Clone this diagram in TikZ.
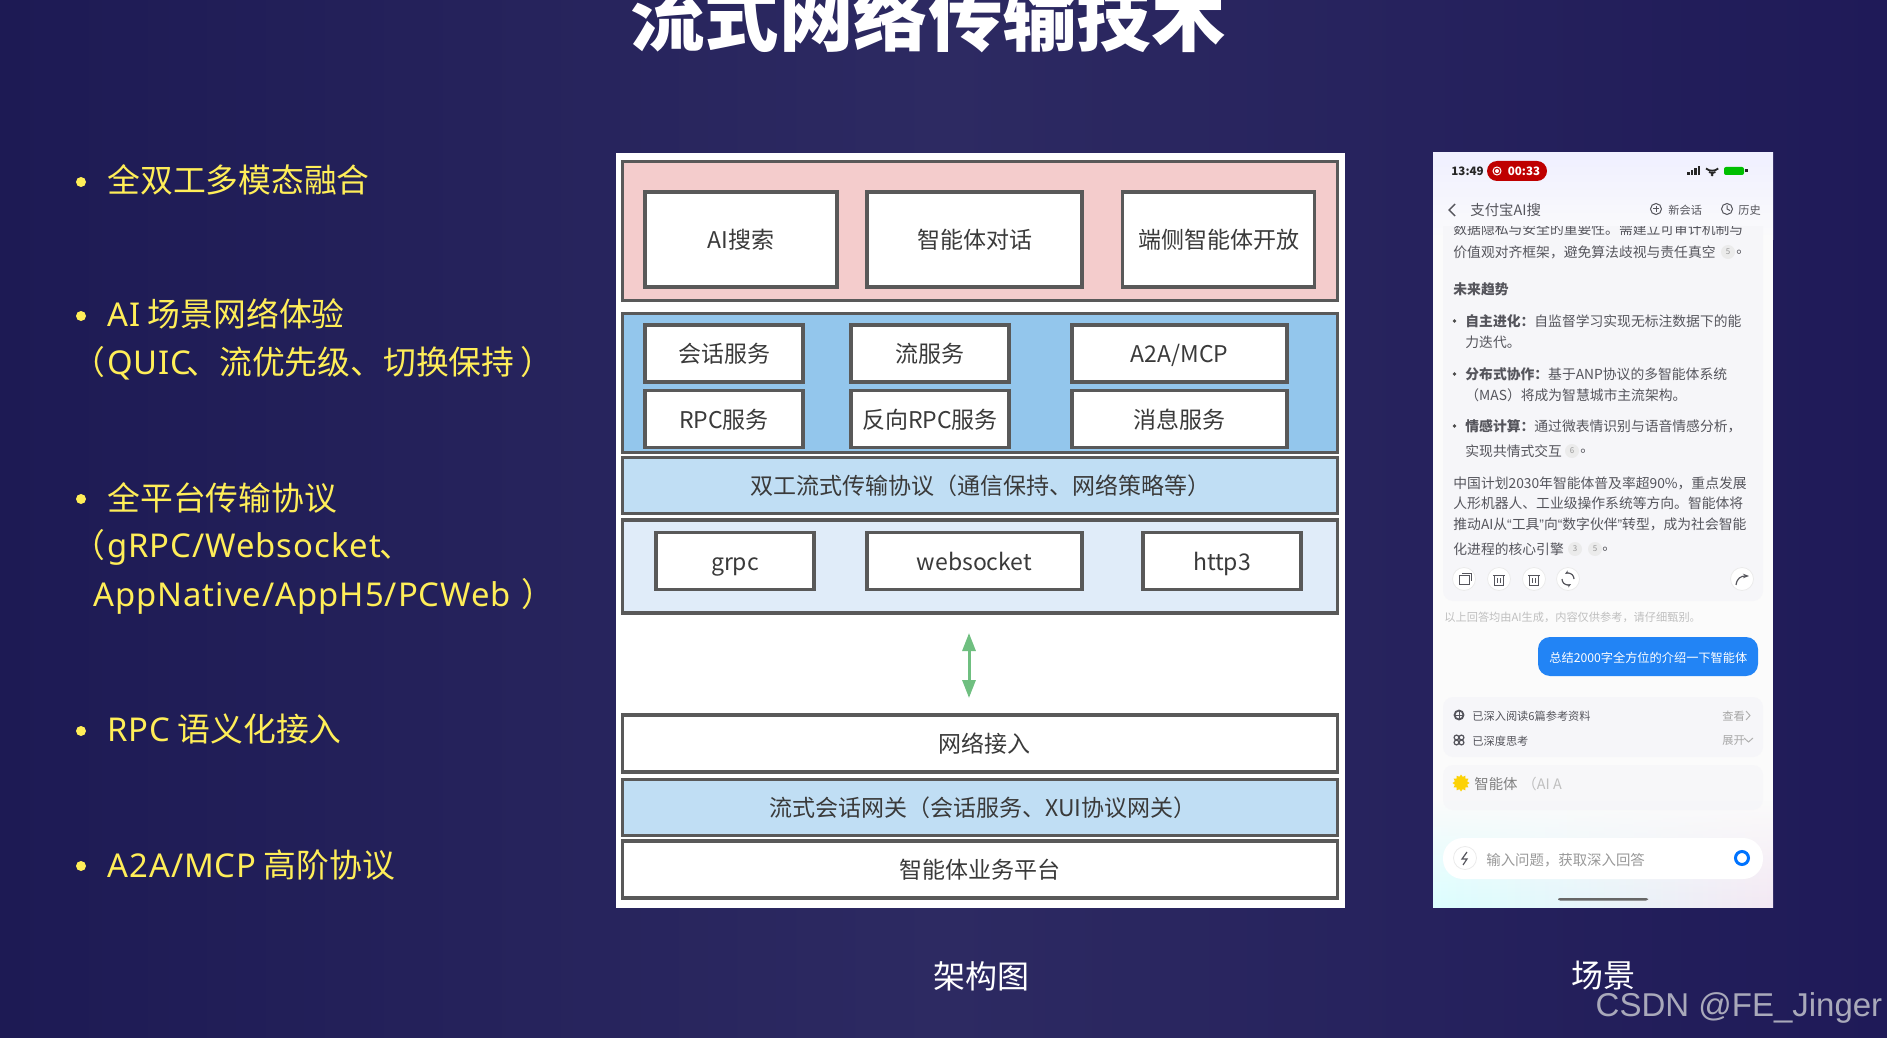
\documentclass[tikz,border=0pt]{standalone}
\usepackage{fontspec}
\setmainfont{Noto Sans CJK SC}
\newfontfamily\marksans{Liberation Sans}
\newfontfamily\itemlatin{Noto Sans}[LetterSpace=3]
\newcommand{\lat}[1]{{\itemlatin #1}}
\usetikzlibrary{arrows.meta,fadings,shapes.geometric}
\definecolor{bgdark}{HTML}{1D1A54}
\definecolor{bgmid}{HTML}{2D2A62}
\definecolor{bgedge}{HTML}{1F1A58}
\definecolor{itemyellow}{HTML}{FFEE58}
\definecolor{linegray}{HTML}{595959}
\definecolor{textgray}{HTML}{3A3A3A}
\definecolor{layerpink}{HTML}{F4CCCC}
\definecolor{layerblue}{HTML}{93C6EC}
\definecolor{bandblue}{HTML}{C0DEF4}
\definecolor{bandpale}{HTML}{E0ECF9}
\definecolor{arrowgreen}{HTML}{6FBF80}
\definecolor{phonegray}{HTML}{55555C}
\definecolor{cardgray}{HTML}{F6F6F9}
\definecolor{chatblue}{HTML}{2284F5}
\definecolor{markgray}{HTML}{A9A9BA}
\begin{document}
\begin{tikzpicture}[x=0.5pt, y=-0.5pt,
    layer/.style={draw=linegray, line width=1.8pt, inner sep=0pt, minimum width=357.5pt, text=textgray, text height=11pt, text depth=2pt, font=\fontsize{11.5}{13}\selectfont},
    whitebox/.style={layer, fill=white, minimum width=#1},
    itemtext/.style={anchor=west, inner sep=0pt, text=itemyellow, font=\fontsize{16.4}{18}\selectfont},
    dotmark/.style={circle, fill=itemyellow, inner sep=0pt, minimum size=5pt},
    caption/.style={text=white, font=\fontsize{16}{18}\selectfont},
    phonetext/.style={anchor=west, inner sep=0pt, text=phonegray, font=\fontsize{6.9}{8}\selectfont},
    phonesmall/.style={phonetext, font=\fontsize{5.6}{7}\selectfont},
    refmark/.style={circle, fill=black!8, text=black!40, inner sep=0pt, minimum size=7pt, font=\fontsize{4}{5}\selectfont},
    iconring/.style={circle, draw=black!8, fill=white, inner sep=0pt, minimum size=11.5pt},
    card/.style={fill=cardgray, rounded corners=5pt}]

  % 背景
  \useasboundingbox (0,0) rectangle (1887,1038);
  \shade[left color=bgdark, right color=bgedge, middle color=bgmid] (0,0) rectangle (1887,1038);

  % 标题（上沿被裁掉）
  \node[text=white, inner sep=0pt, font=\fontsize{37.2}{40}\selectfont\bfseries] (title) at (928,17) {流式网络传输技术};

  % 左侧要点
  \foreach \i/\ypos in {1/182, 2/316, 3/499, 4/731, 5/866}
    \node[dotmark] (dot\i) at (81,\ypos) {};
  \node[itemtext] (item1) at (107,180) {全双工多模态融合};
  \node[itemtext] (item2) at (107,314) {\lat{AI} 场景网络体验};
  \node[itemtext] (item2b) at (72,363) {（\hspace{1pt}\lat{QUIC}\hspace{-2.5pt}、流优先级、切换保持\hspace{2.9pt}）};
  \node[itemtext] (item3) at (107,498) {全平台传输协议};
  \node[itemtext] (item3b) at (72,547) {（\hspace{1pt}\lat{gRPC/Websocket}\hspace{-1pt}、};
  \node[itemtext] (item3c) at (93,596) {\lat{AppNative/AppH5/PCWeb}\hspace{5pt}）};
  \node[itemtext] (item4) at (107,729) {\lat{RPC} 语义化接入};
  \node[itemtext] (item5) at (107,865) {\lat{A2A/MCP} 高阶协议};

  % 架构图底板
  \fill[white] (616,153) rectangle (1345,908);

  % 上层：应用
  \node[layer, fill=layerpink, minimum height=69.5pt] (applayer) at (980,231) {};
  \node[whitebox=96pt, minimum height=47.5pt] (aisearch) at (741,239.5) {AI搜索};
  \node[whitebox=107.5pt, minimum height=47.5pt] (agentchat) at (974.5,239.5) {智能体对话};
  \node[whitebox=96pt, minimum height=47.5pt] (edgeagent) at (1218.5,239.5) {端侧智能体开放};

  % 中层：服务
  \node[layer, fill=layerblue, minimum height=69.5pt] (svclayer) at (980,383) {};
  \node[whitebox=79pt, minimum height=28.5pt] (session) at (724,353.5) {会话服务};
  \node[whitebox=79pt, minimum height=28.5pt] (stream) at (930,353.5) {流服务};
  \node[whitebox=107.5pt, minimum height=28.5pt] (a2a) at (1179.5,353.5) {A2A/MCP};
  \node[whitebox=79pt, minimum height=28.5pt] (rpc) at (724,419) {RPC服务};
  \node[whitebox=79pt, minimum height=28.5pt] (revrpc) at (930,419) {反向RPC服务};
  \node[whitebox=107.5pt, minimum height=28.5pt] (message) at (1179.5,419) {消息服务};

  % 传输协议
  \node[layer, fill=bandblue, minimum height=28pt] (duplex) at (980,485.5) {双工流式传输协议（通信保持、网络策略等）};
  \node[layer, fill=bandpale, minimum height=46.5pt] (protolayer) at (980,566.5) {};
  \node[whitebox=79pt, minimum height=28.5pt] (grpc) at (735,561) {grpc};
  \node[whitebox=107.5pt, minimum height=28.5pt] (websocket) at (974.5,561) {websocket};
  \node[whitebox=79pt, minimum height=28.5pt] (http3) at (1222,561) {http3};

  % 双向箭头
  \coordinate (arrowtop) at (969,633);
  \coordinate (arrowbot) at (969,698);
  \draw[arrowgreen, line width=1.5pt, {Triangle[length=9pt,width=6.5pt]}-{Triangle[length=9pt,width=6.5pt]}] (arrowtop) -- (arrowbot);

  % 下层
  \node[whitebox=357.5pt, minimum height=28.5pt] (access) at (980,743.5) {\hspace*{4pt}网络接入};
  \node[layer, fill=bandblue, minimum height=28pt] (gateway) at (980,807.5) {\hspace*{3pt}流式会话网关（会话服务、XUI协议网关）};
  \node[whitebox=357.5pt, minimum height=28.5pt] (platform) at (980,869.5) {智能体业务平台};

  % 图注
  \node[caption] (archcap) at (981,976) {架构图};
  \node[caption] (scenecap) at (1603,976) {场景};
  \node[text=markgray, inner sep=0pt, font=\fontsize{16.5}{18}\selectfont\marksans] (watermark) at (1739,1008) {CSDN @FE\_Jinger};

  % 手机截图：底色
  \fill[black!1.5!white] (1433,153) rectangle (1773,908);
  \shade[top color=blue!6!white, bottom color=black!1.5!white] (1433,153) rectangle (1773,240);
  \shade[left color=cyan!14!white, right color=violet!9!white, path fading=north] (1433,800) rectangle (1773,908);

  % 状态栏
  \node[phonetext, text=black!85, font=\fontsize{5.8}{7}\selectfont\bfseries] (clock) at (1451,171) {13:49};
  \node[fill=red!75!black, text=white, rounded corners=5pt, minimum width=30pt, minimum height=10pt, inner sep=0pt, font=\fontsize{5.8}{7}\selectfont\bfseries] (recpill) at (1517,171) {\hspace{7pt}00:33};
  \draw[white, line width=0.5pt] (1497,171) circle (4);
  \fill[white] (1497,171) circle (2);
  \foreach \i/\h in {0/3, 1/5, 2/7, 3/9}
    \fill[black!85] ({1687+\i*3.5},175.5) rectangle ++(2.6,-\h);
  \draw[black!85, line width=0.9pt] (1706,168.5) arc (130:50:9.5);
  \draw[black!85, line width=0.9pt] (1709,172) arc (130:50:5);
  \fill[black!85] (1712,175) circle (1.5);
  \fill[green!75!black, rounded corners=1pt] (1724,167) rectangle (1744,175);
  \fill[black!85] (1745,169.5) rectangle (1748,172.5);

  % 导航栏
  \draw[phonegray, line width=0.7pt] (1455,204) -- (1449,210) -- (1455,216);
  \node[phonetext, font=\fontsize{7.2}{8}\selectfont] (navtitle) at (1470,210) {支付宝AI搜};
  \draw[phonegray, line width=0.5pt] (1656,209) circle (5.5);
  \draw[phonegray, line width=0.5pt] (1653,209) -- (1659,209) (1656,206) -- (1656,212);
  \node[phonesmall] (newchat) at (1668,210) {新会话};
  \draw[phonegray, line width=0.5pt] (1727,209) circle (5.5);
  \draw[phonegray, line width=0.5pt] (1727,205.5) -- (1727,209) -- (1730,210.5);
  \node[phonesmall] (history) at (1738,210) {历史};

  % 回答卡片
  \begin{scope}
    \clip (1433,227) rectangle (1773,620);
    \fill[card] (1443,210) rectangle (1763,601);
    \node[phonetext] (line0) at (1453,229) {数据隐私与安全的重要性。需建立可审计机制与};
  \end{scope}
  \node[phonetext] (line1) at (1453,252) {价值观对齐框架，避免算法歧视与责任真空};
  \node[refmark] (ref1) at (1728,252) {5};
  \node[phonetext] (line1b) at (1736,252) {。};
  \node[phonetext, font=\fontsize{6.9}{8}\selectfont\bfseries] (trend) at (1453,289) {未来趋势};
  \foreach \ypos in {321, 374, 426}
    \fill[black!70] (1454.5,\ypos) circle (1.8);
  \node[phonetext] (line2) at (1465,321) {\textbf{自主进化：}自监督学习实现无标注数据下的能};
  \node[phonetext] (line3) at (1465,342) {力迭代。};
  \node[phonetext] (line4) at (1465,374) {\textbf{分布式协作：}基于ANP协议的多智能体系统};
  \node[phonetext] (line5) at (1465,395) {（MAS）将成为智慧城市主流架构。};
  \node[phonetext] (line6) at (1465,426) {\textbf{情感计算：}通过微表情识别与语音情感分析，};
  \node[phonetext] (line7) at (1465,451) {实现共情式交互};
  \node[refmark] (ref2) at (1572,451) {6};
  \node[phonetext] (line7b) at (1580,451) {。};
  \node[phonetext] (line8) at (1453,483) {中国计划2030年智能体普及率超90\%，重点发展};
  \node[phonetext] (line9) at (1453,503) {人形机器人、工业级操作系统等方向。智能体将};
  \node[phonetext] (line10) at (1453,524) {推动AI从{\marksans“}工具{\marksans”}向{\marksans“}数字伙伴{\marksans”}转型，成为社会智能};
  \node[phonetext] (line11) at (1453,549) {化进程的核心引擎};
  \node[refmark] (ref3) at (1575,549) {3};
  \node[refmark] (ref4) at (1595,549) {5};
  \node[phonetext] (line11b) at (1602,549) {。};

  % 操作按钮
  \foreach \xpos/\name in {1464/copybtn, 1499/delbtn, 1534/delbtnb, 1568/redobtn, 1742/sharebtn}
    \node[iconring] (\name) at (\xpos,579) {};
  \draw[phonegray, line width=0.5pt] (1459,575) rectangle (1469,584) (1462,573) -- (1471,573) -- (1471,581);
  \foreach \xpos in {1499, 1534} {
    \draw[phonegray, line width=0.5pt] (\xpos-4.5,575) rectangle (\xpos+4.5,585);
    \draw[phonegray, line width=0.5pt] (\xpos-6,575) -- (\xpos+6,575);
    \draw[phonegray, line width=0.5pt] (\xpos-1.5,578) -- (\xpos-1.5,583) (\xpos+1.5,578) -- (\xpos+1.5,583);
  }
  \draw[phonegray, line width=0.6pt, -{Stealth[length=2pt]}] (1562,579) arc (180:60:6);
  \draw[phonegray, line width=0.6pt, -{Stealth[length=2pt]}] (1574,579) arc (0:-120:6);
  \draw[phonegray, line width=0.6pt, -{Stealth[length=3pt]}] (1736,585) .. controls (1737,578) and (1741,576) .. (1749,576);

  % 提问气泡
  \node[phonesmall, text=black!25] (notice) at (1444,617) {以上回答均由AI生成，内容仅供参考，请仔细甄别。};
  \fill[chatblue, rounded corners=6pt] (1538,637) rectangle (1758,676);
  \node[phonetext, text=white, font=\fontsize{6.1}{7}\selectfont] (question) at (1549,658) {总结2000字全方位的介绍一下智能体};

  % 阅读记录
  \fill[card] (1443,697) rectangle (1763,757);
  \draw[phonegray, line width=0.9pt] (1459,715) circle (4.5);
  \draw[phonegray, line width=0.5pt] (1454.5,715) -- (1463.5,715) (1459,710.5) -- (1459,719.5);
  \node[phonesmall, text=phonegray] (readlog) at (1472,716) {已深入阅读6篇参考资料};
  \foreach \dx/\dy in {-2.5/-2.5, 2.5/-2.5, -2.5/2.5, 2.5/2.5}
    \draw[phonegray, line width=0.6pt] (1459+\dx,740+\dy) circle (2.4);
  \node[phonesmall, text=phonegray] (thinklog) at (1472,741) {已深度思考};
  \node[phonesmall, text=black!35] (viewlink) at (1722,716) {查看};
  \draw[black!30, line width=0.5pt] (1746,711) -- (1750,715.5) -- (1746,720);
  \node[phonesmall, text=black!35] (expandlink) at (1722,741) {展开};
  \draw[black!30, line width=0.5pt] (1744,738) -- (1748.5,742) -- (1753,738);

  % 生成中的卡片
  \fill[card, opacity=0.8] (1443,765) rectangle (1763,810);
  \node[star, star points=12, star point ratio=1.35, fill=yellow!70!orange, inner sep=0pt, minimum size=8.5pt] (sunmark) at (1461,783) {};
  \node[phonetext, text=black!50, font=\fontsize{7.2}{8}\selectfont] (agentname) at (1474,784) {智能体};
  \node[phonetext, text=black!25, font=\fontsize{7.2}{8}\selectfont] (agentrest) at (1522,784) {（AI A};

  % 输入框
  \fill[white, rounded corners=10pt] (1443,838) rectangle (1763,879);
  \node[iconring] (boltbtn) at (1465,858) {};
  \draw[phonegray, line width=0.6pt] (1467,852) -- (1462,859) -- (1467,859) -- (1463,865);
  \node[phonetext, text=black!40, font=\fontsize{7.2}{8}\selectfont] (inputhint) at (1486,860) {输入问题，获取深入回答};
  \draw[blue!55!cyan, line width=1.5pt] (1742,858) circle (6.5);
  \fill[black!60, rounded corners=1pt] (1558,898) rectangle (1648,900.5);
\end{tikzpicture}
\end{document}
